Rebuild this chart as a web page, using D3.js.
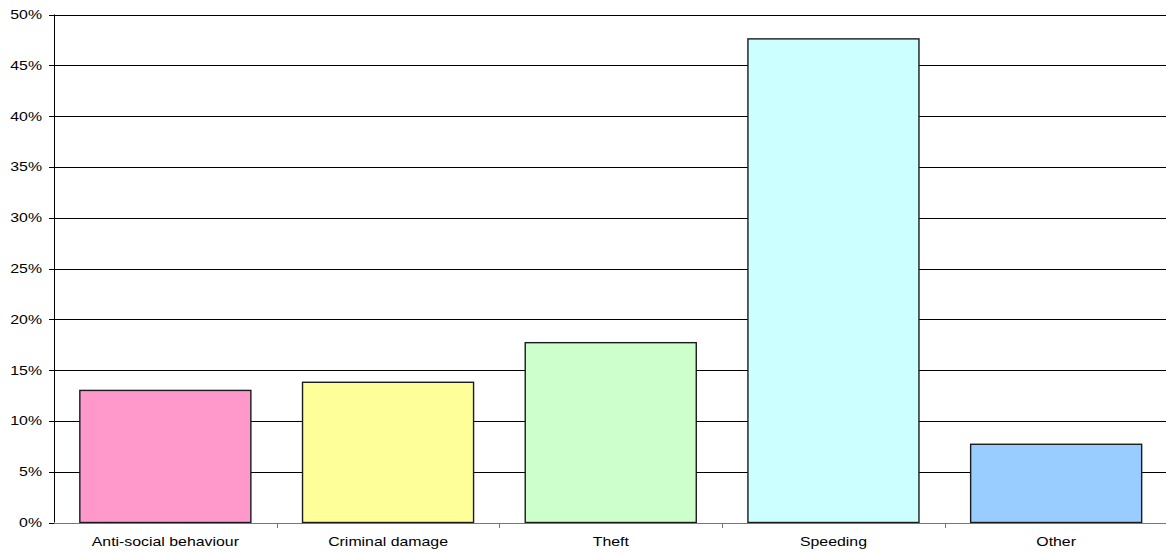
<!DOCTYPE html>
<html>
<head>
<meta charset="utf-8">
<script src="https://cdn.jsdelivr.net/npm/d3@7"></script>
<style>
  html, body { margin: 0; padding: 0; background: #fff; }
  svg { display: block; }
  text { font-family: "Liberation Sans", Arial, sans-serif; font-size: 12.5px; fill: #000; }
</style>
</head>
<body>
<svg id="chart" width="1166" height="553"></svg>
<script>
// Share of reported issues by type
const categories = ["Anti-social behaviour", "Criminal damage", "Theft", "Speeding", "Other"];
const values = [0.130, 0.138, 0.177, 0.476, 0.077];
const colors = ["#FF99CC", "#FFFF99", "#CCFFCC", "#CCFFFF", "#99CCFF"];
const yTicks = [0, 0.05, 0.10, 0.15, 0.20, 0.25, 0.30, 0.35, 0.40, 0.45, 0.50];

const W = 1166, H = 553;
const plot = { left: 54, right: 1167.5, top: 14.5, bottom: 522.5 };
const textStretch = 1.27;

const svg = d3.select("#chart");

const x = d3.scaleBand()
  .domain(categories)
  .range([plot.left, plot.right])
  .paddingInner(0.232)
  .paddingOuter(0.116);

const y = d3.scaleLinear()
  .domain([0, 0.5])
  .range([plot.bottom, plot.top]);

// horizontal gridlines
svg.append("g")
  .selectAll("line")
  .data(yTicks.filter(d => d > 0))
  .join("line")
  .attr("x1", plot.left).attr("x2", W)
  .attr("y1", d => Math.round(y(d)) + 0.5).attr("y2", d => Math.round(y(d)) + 0.5)
  .attr("stroke", "#000").attr("stroke-width", 1);

// bars
svg.append("g")
  .selectAll("rect")
  .data(categories)
  .join("rect")
  .attr("x", d => x(d))
  .attr("width", x.bandwidth())
  .attr("y", (d, i) => y(values[i]))
  .attr("height", (d, i) => y(0) - y(values[i]))
  .attr("fill", (d, i) => colors[i])
  .attr("stroke", "#1a1a1a")
  .attr("stroke-width", 1.4);

// x axis baseline and category ticks
const xAxis = svg.append("g");
xAxis.append("line")
  .attr("x1", plot.left).attr("x2", W)
  .attr("y1", Math.round(y(0)) + 0.5).attr("y2", Math.round(y(0)) + 0.5)
  .attr("stroke", "#777").attr("stroke-width", 1);

const bandStep = x.step();
const boundaries = d3.range(1, categories.length).map(i => x(categories[i]) - x.paddingInner() * bandStep / 2);
xAxis.selectAll("line.tick")
  .data(boundaries)
  .join("line")
  .attr("class", "tick")
  .attr("x1", d => Math.round(d) + 0.5).attr("x2", d => Math.round(d) + 0.5)
  .attr("y1", Math.round(y(0))).attr("y2", Math.round(y(0)) + 5)
  .attr("stroke", "#777");

xAxis.selectAll("text")
  .data(categories)
  .join("text")
  .attr("text-anchor", "middle")
  .attr("transform", d => `translate(${x(d) + x.bandwidth() / 2},546) scale(${textStretch},1)`)
  .text(d => d);

// y axis
const yAxis = svg.append("g");
yAxis.append("line")
  .attr("x1", plot.left + 0.5).attr("x2", plot.left + 0.5)
  .attr("y1", y(0.5)).attr("y2", y(0))
  .attr("stroke", "#000");

yAxis.selectAll("line.tick")
  .data(yTicks)
  .join("line")
  .attr("class", "tick")
  .attr("x1", plot.left - 5).attr("x2", plot.left)
  .attr("y1", d => Math.round(y(d)) + 0.5).attr("y2", d => Math.round(y(d)) + 0.5)
  .attr("stroke", "#000");

const fmt = d3.format(".0%");
yAxis.selectAll("text")
  .data(yTicks)
  .join("text")
  .attr("text-anchor", "end")
  .attr("transform", d => `translate(42,${y(d) + 4.5}) scale(${textStretch},1)`)
  .text(d => fmt(d));
</script>
</body>
</html>
